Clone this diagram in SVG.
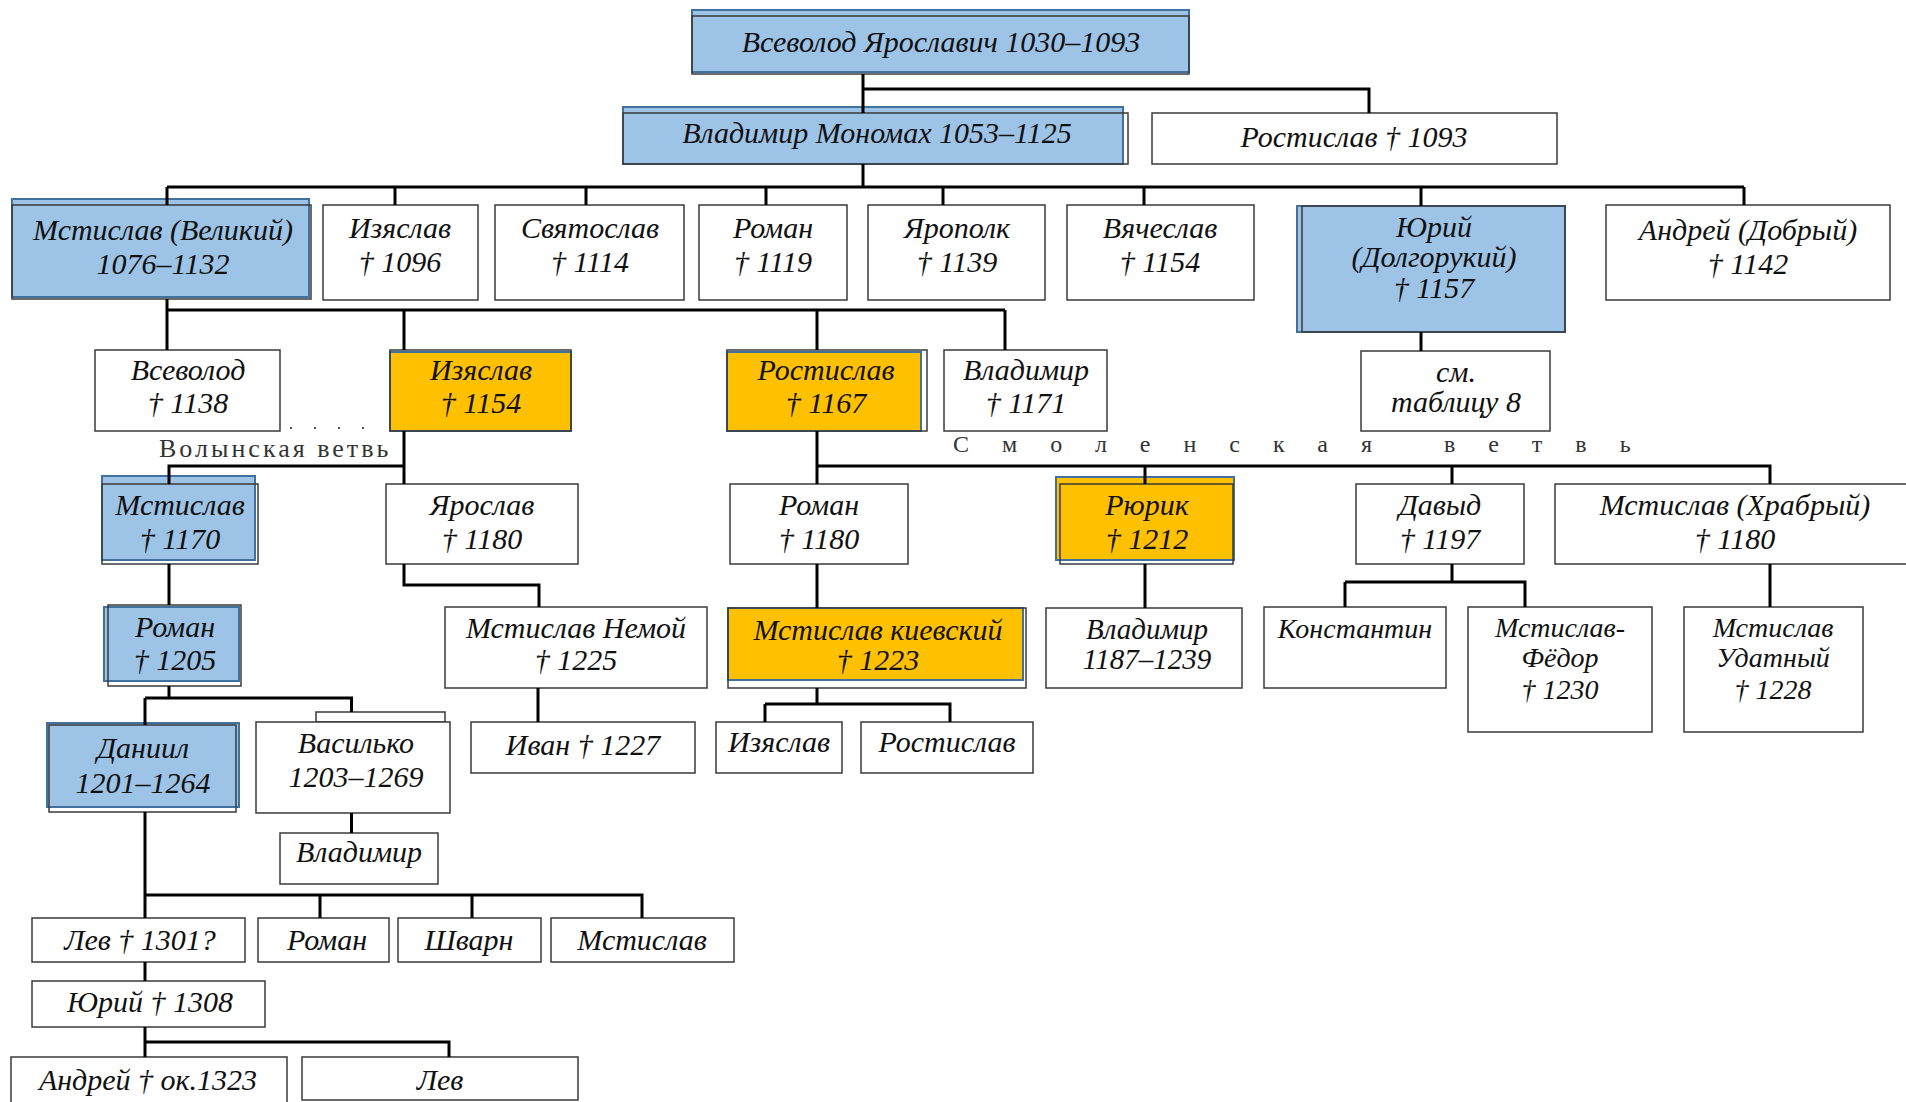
<svg xmlns="http://www.w3.org/2000/svg" width="1906" height="1102" viewBox="0 0 1906 1102">
<style>
.n{fill:#fff;stroke:#3a3a3a;stroke-width:1.5}
.o{fill:none;stroke:#3a3a3a;stroke-width:1.5}
.b{fill:#9dc3e6;stroke:#41719c;stroke-width:2}
.y{fill:#ffc000;stroke:#41719c;stroke-width:2}
.c{fill:none;stroke:#000;stroke-width:3}
.t{font-family:"Liberation Serif",serif;font-style:italic;font-size:30px;text-anchor:middle;fill:#111}
.s{font-size:28px}
.w{font-size:29px}
.l{font-family:"Liberation Serif",serif;font-size:26px;fill:#333}
</style>
<rect width="1906" height="1102" fill="#fff"/>
<g id="n-vsevolod-yar"><rect class="b" x="692" y="10" width="497" height="62"/><rect class="o" x="692" y="16" width="497" height="58"/><text class="t" x="941" y="52">Всеволод Ярославич 1030–1093</text></g>
<g id="n-monomakh"><rect class="b" x="623" y="107" width="500" height="57"/><rect class="o" x="623" y="113" width="505" height="51"/><text class="t" x="877" y="143">Владимир Мономах 1053–1125</text></g>
<g id="n-rostislav-1093"><rect class="n" x="1152" y="113" width="405" height="51"/><text class="t" x="1354" y="147">Ростислав † 1093</text></g>
<g id="n-mstislav-vel"><rect class="b" x="12" y="199" width="297" height="98"/><rect class="o" x="12" y="205" width="299" height="94"/><text class="t" x="163" y="240">Мстислав (Великий)</text><text class="t" x="163" y="274">1076–1132</text></g>
<g id="n-izyaslav-1096"><rect class="n" x="323" y="205" width="155" height="95"/><text class="t" x="400" y="238">Изяслав</text><text class="t" x="400" y="272">† 1096</text></g>
<g id="n-svyatoslav"><rect class="n" x="495" y="205" width="189" height="95"/><text class="t" x="590" y="238">Святослав</text><text class="t" x="590" y="272">† 1114</text></g>
<g id="n-roman-1119"><rect class="n" x="699" y="205" width="148" height="95"/><text class="t" x="773" y="238">Роман</text><text class="t" x="773" y="272">† 1119</text></g>
<g id="n-yaropolk"><rect class="n" x="868" y="205" width="177" height="95"/><text class="t" x="957" y="238">Ярополк</text><text class="t" x="957" y="272">† 1139</text></g>
<g id="n-vyacheslav"><rect class="n" x="1067" y="205" width="187" height="95"/><text class="t" x="1160" y="238">Вячеслав</text><text class="t" x="1160" y="272">† 1154</text></g>
<g id="n-yuri-dolg"><rect class="b" x="1297" y="206" width="268" height="126"/><rect class="o" x="1302" y="206" width="263" height="126"/><text class="t" x="1434" y="237">Юрий</text><text class="t" x="1434" y="267">(Долгорукий)</text><text class="t" x="1434" y="298">† 1157</text></g>
<g id="n-andrey-dobry"><rect class="n" x="1606" y="205" width="284" height="95"/><text class="t" x="1748" y="240">Андрей (Добрый)</text><text class="t" x="1748" y="274">† 1142</text></g>
<g id="n-vsevolod-1138"><rect class="n" x="95" y="350" width="185" height="81"/><text class="t" x="188" y="380">Всеволод</text><text class="t" x="188" y="413">† 1138</text></g>
<g id="n-izyaslav-1154"><rect class="y" x="390" y="352" width="181" height="79"/><rect class="o" x="390" y="350" width="181" height="81"/><text class="t" x="481" y="380">Изяслав</text><text class="t" x="481" y="413">† 1154</text></g>
<g id="n-rostislav-1167"><rect class="y" x="727" y="352" width="194" height="79"/><rect class="o" x="727" y="350" width="200" height="81"/><text class="t" x="826" y="380">Ростислав</text><text class="t" x="826" y="413">† 1167</text></g>
<g id="n-vladimir-1171"><rect class="n" x="944" y="350" width="163" height="81"/><text class="t" x="1026" y="380">Владимир</text><text class="t" x="1026" y="413">† 1171</text></g>
<g id="n-sm-tabl"><rect class="n" x="1361" y="351" width="189" height="80"/><text class="t" x="1456" y="382">см.</text><text class="t" x="1456" y="412">таблицу 8</text></g>
<g id="lbl-volyn"><line x1="290" y1="428" x2="365" y2="428" stroke="#555" stroke-width="2" stroke-dasharray="2 22"/><text class="l" x="159" y="457" letter-spacing="3">Волынская ветвь</text></g>
<text class="l" x="953" y="452" style="font-size:24px" letter-spacing="33">Смоленская ветвь</text>
<g id="n-mstislav-1170"><rect class="b" x="102" y="476" width="153" height="84"/><rect class="o" x="102" y="484" width="156" height="80"/><text class="t" x="180" y="515">Мстислав</text><text class="t" x="180" y="549">† 1170</text></g>
<g id="n-yaroslav-1180"><rect class="n" x="386" y="484" width="192" height="80"/><text class="t" x="482" y="515">Ярослав</text><text class="t" x="482" y="549">† 1180</text></g>
<g id="n-roman-1180"><rect class="n" x="730" y="484" width="178" height="80"/><text class="t" x="819" y="515">Роман</text><text class="t" x="819" y="549">† 1180</text></g>
<g id="n-rurik"><rect class="y" x="1056" y="477" width="178" height="83"/><rect class="o" x="1060" y="484" width="173" height="80"/><text class="t" x="1147" y="515">Рюрик</text><text class="t" x="1147" y="549">† 1212</text></g>
<g id="n-davyd"><rect class="n" x="1356" y="484" width="168" height="80"/><text class="t" x="1440" y="515">Давыд</text><text class="t" x="1440" y="549">† 1197</text></g>
<g id="n-mstislav-khrabry"><rect class="n" x="1555" y="484" width="355" height="80"/><text class="t" x="1735" y="515">Мстислав (Храбрый)</text><text class="t" x="1735" y="549">† 1180</text></g>
<g id="n-roman-1205"><rect class="b" x="104" y="607" width="135" height="74"/><rect class="o" x="108" y="605" width="133" height="81"/><text class="t" x="175" y="637">Роман</text><text class="t" x="175" y="670">† 1205</text></g>
<g id="n-mstislav-nemoy"><rect class="n" x="445" y="607" width="262" height="81"/><text class="t" x="576" y="638">Мстислав Немой</text><text class="t" x="576" y="670">† 1225</text></g>
<g id="n-mstislav-kiev"><rect class="y" x="728" y="608" width="295" height="72"/><rect class="o" x="728" y="608" width="298" height="80"/><text class="t" x="878" y="640">Мстислав киевский</text><text class="t" x="878" y="670">† 1223</text></g>
<g id="n-vladimir-1187"><rect class="n" x="1046" y="608" width="196" height="80"/><text class="t w" x="1147" y="639">Владимир</text><text class="t w" x="1147" y="669">1187–1239</text></g>
<g id="n-konstantin"><rect class="n" x="1264" y="607" width="182" height="81"/><text class="t s" x="1355" y="638">Константин</text></g>
<g id="n-mstislav-fedor"><rect class="n" x="1468" y="607" width="184" height="125"/><text class="t s" x="1560" y="637">Мстислав-</text><text class="t s" x="1560" y="667">Фёдор</text><text class="t s" x="1560" y="699">† 1230</text></g>
<g id="n-mstislav-udatny"><rect class="n" x="1684" y="607" width="179" height="125"/><text class="t s" x="1773" y="637">Мстислав</text><text class="t s" x="1773" y="667">Удатный</text><text class="t s" x="1773" y="699">† 1228</text></g>
<g id="n-daniil"><rect class="b" x="47" y="723" width="192" height="84"/><rect class="o" x="49" y="725" width="187" height="87"/><text class="t" x="143" y="758">Даниил</text><text class="t" x="143" y="793">1201–1264</text></g>
<g id="n-vasilko"><rect class="o" x="316" y="712" width="129" height="10"/><rect class="n" x="256" y="722" width="194" height="91"/><text class="t" x="356" y="753">Василько</text><text class="t" x="356" y="787">1203–1269</text></g>
<g id="n-ivan"><rect class="n" x="471" y="722" width="224" height="51"/><text class="t" x="583" y="755">Иван † 1227</text></g>
<g id="n-izyaslav-small"><rect class="n" x="716" y="722" width="126" height="51"/><text class="t" x="779" y="752">Изяслав</text></g>
<g id="n-rostislav-small"><rect class="n" x="861" y="722" width="172" height="51"/><text class="t" x="947" y="752">Ростислав</text></g>
<g id="n-vladimir-small"><rect class="n" x="280" y="833" width="158" height="51"/><text class="t" x="359" y="862">Владимир</text></g>
<g id="n-lev-1301"><rect class="n" x="32" y="918" width="213" height="44"/><text class="t" x="140" y="950">Лев  †  1301?</text></g>
<g id="n-roman-s"><rect class="n" x="258" y="918" width="131" height="44"/><text class="t" x="327" y="950">Роман</text></g>
<g id="n-shvarn"><rect class="n" x="398" y="918" width="143" height="44"/><text class="t" x="469" y="950">Шварн</text></g>
<g id="n-mstislav-s"><rect class="n" x="551" y="918" width="183" height="44"/><text class="t" x="642" y="950">Мстислав</text></g>
<g id="n-yuri-1308"><rect class="n" x="32" y="981" width="233" height="46"/><text class="t" x="150" y="1012">Юрий † 1308</text></g>
<g id="n-andrey-1323"><rect class="n" x="11" y="1057" width="276" height="50"/><text class="t" x="148" y="1090">Андрей † ок.1323</text></g>
<g id="n-lev"><rect class="n" x="302" y="1057" width="276" height="43"/><text class="t" x="440" y="1090">Лев</text></g>
<g id="connectors">
<path class="c" d="M863 74V113M863 89H1369V113"/>
<path class="c" d="M863 164V187M167 187H1744M167 187V205M395 187V205M586 187V205M766 187V205M943 187V205M1144 187V205M1421 187V206M1744 187V205"/>
<path class="c" d="M167 299V310H1005M167 310V350M404 310V350M817 310V350M1005 310V350"/>
<path class="c" d="M404 431V484M404 466H169V484"/>
<path class="c" d="M169 564V605"/>
<path class="c" d="M169 686V698M145 698H351.5V712M145 698V725"/>
<path class="c" d="M404 564V585H539V607"/>
<path class="c" d="M538 688V722"/>
<path class="c" d="M817 431V484M817 466H1770V484M1145 466V484M1452 466V484"/>
<path class="c" d="M817 564V608"/>
<path class="c" d="M1145 564V608"/>
<path class="c" d="M1452 564V582M1345 582H1525V607M1345 582V607"/>
<path class="c" d="M1770 564V607"/>
<path class="c" d="M817 688V704M765 704H950V722M765 704V722"/>
<path class="c" d="M1421 332V351"/>
<path class="c" d="M351.5 813V833"/>
<path class="c" d="M145 812V918M145 895H642V918M320 895V918M472 895V918"/>
<path class="c" d="M145 962V981"/>
<path class="c" d="M145 1027V1057M145 1042H449V1057"/>
</g>
</svg>
